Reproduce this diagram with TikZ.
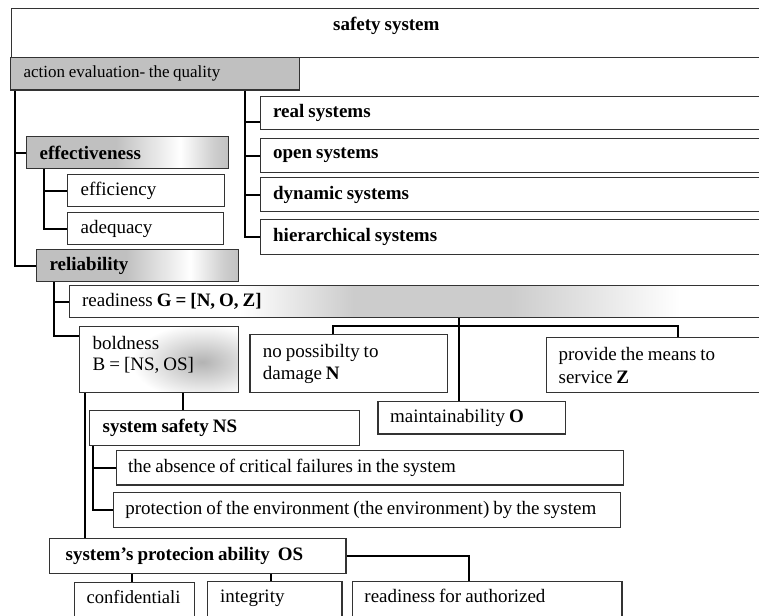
\documentclass[tikz,border=0pt]{standalone}
\usepackage{fontspec}
\setmainfont{Liberation Serif}
\usetikzlibrary{calc}
\definecolor{boxgray}{HTML}{C0C0C0}
\definecolor{edgec}{HTML}{333333}
\pgfdeclarehorizontalshading{glowsh}{100bp}{color(0bp)=(boxgray); color(25bp)=(boxgray); color(47bp)=(boxgray); color(63bp)=(white); color(71bp)=(boxgray!75); color(75bp)=(boxgray); color(100bp)=(boxgray)}
\pgfdeclarehorizontalshading{bandsh}{100bp}{color(0bp)=(white); color(25bp)=(white); color(37bp)=(white); color(45bp)=(black!20); color(56bp)=(black!20); color(68bp)=(white); color(75bp)=(white); color(100bp)=(white)}
\newcommand{\tightsp}{\spaceskip=0.21em\relax\xspaceskip=\spaceskip}
\tikzset{
  box/.style={draw=edgec, line width=1.3pt, rectangle, anchor=north west, inner xsep=13pt, inner ysep=0pt, align=left, font=\fontsize{19pt}{21pt}\selectfont, execute at begin node={\tightsp}},
  conn/.style={draw=black, line width=2pt},
}
\begin{document}
\begin{tikzpicture}[x=1pt,y=-1pt]
\useasboundingbox (0,0) rectangle (759,615);
\clip (0,0) rectangle (759,615);
% glow inside boldness box
\begin{scope}
  \clip (79,326) rectangle (238,392);
  \shade[inner color=black!30, outer color=white] (202,362) ellipse (70 and 38);
\end{scope}
\node[box, align=center, minimum width=750pt, text width=724pt, inner ysep=4pt, text height=18pt, text depth=23pt] (top) at (10.7,8) {\textbf{safety system}};
\node[box, fill=boxgray, minimum width=288.5pt, text width=262.5pt, minimum height=32.5pt, font=\fontsize{17pt}{19pt}\selectfont] (action) at (10,57) {action evaluation- the quality};
\node[box, shading=glowsh, minimum width=202pt, text width=176pt, minimum height=32pt] (eff) at (26,136) {\textbf{effectiveness}};
\node[box, minimum width=157pt, text width=131pt, minimum height=32pt] (effi) at (67,174) {efficiency};
\node[box, minimum width=156pt, text width=130pt, minimum height=32pt] (adeq) at (67,212) {adequacy};
\node[box, shading=glowsh, minimum width=202pt, text width=176pt, minimum height=32pt] (rel) at (36,249) {\textbf{reliability}};
\node[box, minimum width=520pt, text width=494pt, minimum height=33pt] (real) at (259.5,96) {\textbf{real systems}};
\node[box, minimum width=520pt, text width=494pt, minimum height=34pt] (open) at (259.5,138) {\textbf{open systems}};
\node[box, minimum width=520pt, text width=494pt, minimum height=34pt] (dyn) at (259.5,177) {\textbf{dynamic systems}};
\node[box, minimum width=520pt, text width=494pt, minimum height=35pt] (hier) at (259.5,219) {\textbf{hierarchical systems}};
\node[box, shading=bandsh, minimum width=711pt, text width=685pt, minimum height=32pt] (ready) at (68.5,285) {readiness \textbf{G = [N, O, Z]}};
\node[box, minimum width=159pt, text width=133pt, minimum height=66pt, text height=14pt, text depth=34pt] (bold) at (79,326) {boldness\\B = [NS, OS]};
\node[box, fill=white, minimum width=197.4pt, text width=171.4pt, minimum height=58pt, font=\fontsize{19pt}{22pt}\selectfont, inner xsep=12pt] (nopos) at (249.2,334) {no possibilty to\\damage \textbf{N}};
\node[box, fill=white, minimum width=234pt, text width=210pt, minimum height=55pt, font=\fontsize{19pt}{23pt}\selectfont, inner xsep=12pt] (prov) at (546,337) {provide the means to\\service \textbf{Z}};
\node[box, fill=white, minimum width=187.6pt, text width=163.6pt, minimum height=32.6pt, inner xsep=12pt] (maint) at (377.4,400.7) {maintainability \textbf{O}};
\node[box, minimum width=270pt, text width=244pt, minimum height=35pt] (ns) at (89,410) {\textbf{system safety NS}};
\node[box, minimum width=507pt, text width=483pt, minimum height=34.3pt, inner xsep=12pt] (abs) at (115.5,450) {the absence of critical failures in the system};
\node[box, minimum width=507pt, text width=483pt, minimum height=35pt, inner xsep=12pt] (prot) at (112.7,491.7) {protection of the environment (the environment) by the system};
\node[box, minimum width=296.3pt, text width=264.3pt, minimum height=35pt, inner xsep=16pt] (os) at (49,537.7) {\textbf{system’s protecion ability\ \ OS}};
\node[box, minimum width=120pt, text width=96pt, inner xsep=12pt, inner ysep=7pt, text height=14pt, text depth=40pt, font=\fontsize{18.6pt}{21pt}\selectfont] (conf) at (73.9,581.7) {confidentiali};
\node[box, minimum width=134.7pt, text width=108.7pt, inner ysep=7pt, text height=14pt, text depth=40pt] (integ) at (206.5,581) {integrity};
\node[box, minimum width=269.4pt, text width=245.4pt, inner xsep=12pt, inner ysep=7pt, text height=14pt, text depth=40pt] (auth) at (351.8,581) {readiness for authorized};
% connector columns
\coordinate (xL) at (15,0);
\coordinate (xE) at (44,0);
\coordinate (xA) at (245,0);
\coordinate (xR) at (54,0);
\coordinate (xM) at (459.4,0);
\coordinate (xN) at (333,0);
\coordinate (xP) at (677.7,0);
\coordinate (yBar) at (0,325.7);
\coordinate (xB) at (183,0);
\coordinate (xB2) at (84.5,0);
\coordinate (xS) at (93,0);
\coordinate (xO) at (469.4,0);
\coordinate (xC) at (131.8,0);
\coordinate (xI) at (271.4,0);
\draw[conn] (action.south -| xL) |- (eff.west);
\draw[conn] (action.south -| xL) |- (rel.west);
\draw[conn] (eff.south -| xE) |- (effi.west);
\draw[conn] (eff.south -| xE) |- (adeq.west);
\draw[conn] (action.south -| xA) |- ([yshift=-8.5pt]real.west);
\draw[conn] (action.south -| xA) |- (open.west);
\draw[conn] (action.south -| xA) |- (dyn.west);
\draw[conn] (action.south -| xA) |- (hier.west);
\draw[conn] (rel.south -| xR) |- (ready.west);
\draw[conn] (rel.south -| xR) |- ([yshift=-10pt]bold.north west);
\draw[conn] (ready.south -| xM) -- (maint.north -| xM);
\draw[conn] (nopos.north -| xN) -- (xN |- yBar) -- (xP |- yBar) -- (prov.north -| xP);
\draw[conn] (bold.south -| xB) -- (ns.north -| xB);
\draw[conn] (bold.south -| xB2) -- (os.north -| xB2);
\draw[conn] (ns.south -| xS) |- (abs.west);
\draw[conn] (ns.south -| xS) |- (prot.west);
\draw[conn] (os.east) -| (auth.north -| xO);
\draw[conn] (os.south -| xC) -- (conf.north -| xC);
\draw[conn] (os.south -| xI) -- (integ.north -| xI);
\end{tikzpicture}
\end{document}
